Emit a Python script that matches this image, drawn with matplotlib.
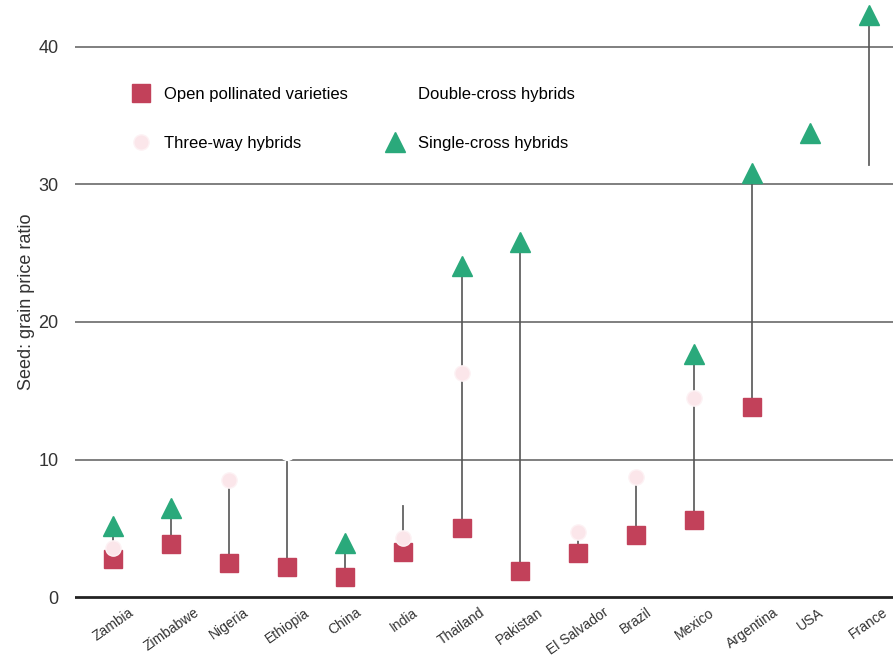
import numpy as np
import matplotlib
matplotlib.use("Agg")
import matplotlib.pyplot as plt

plt.rcParams['font.family'] = ['Liberation Sans', 'DejaVu Sans']

countries = ["Zambia", "Zimbabwe", "Nigeria", "Ethiopia", "China", "India", "Thailand",
             "Pakistan", "El Salvador", "Brazil", "Mexico", "Argentina", "USA", "France"]
nan = np.nan
open_pollinated = [2.8, 3.85, 2.5, 2.2, 1.45, 3.3, 5.0, 1.9, 3.2, 4.5, 5.6, 13.8, nan, nan]
double_cross = [nan, nan, nan, 10.5, nan, 7.3, nan, nan, nan, nan, nan, nan, nan, 30.8]
three_way = [3.6, nan, 8.5, nan, nan, 4.3, 16.3, nan, 4.7, 8.7, 14.5, nan, nan, nan]
single_cross = [5.2, 6.5, nan, nan, 3.9, nan, 24.1, 25.8, nan, nan, 17.7, 30.8, 33.7, 42.3]
yticks = [0, 10, 20, 30, 40]

fig = plt.figure(figsize=(8.93, 6.60), dpi=100)
ax = fig.add_axes([0.084, 0.087, 0.916, 0.913])
x = np.arange(len(countries))

# gridlines
for t in yticks:
    ax.axhline(t, color='#222222' if t == 0 else '#6a6a6a', lw=2.0 if t == 0 else 1.2, zorder=0)

# vertical range lines
allv = np.array([open_pollinated, double_cross, three_way, single_cross], dtype=float)
for i in range(len(countries)):
    col = allv[:, i]
    col = col[~np.isnan(col)]
    if len(col) >= 2:
        ax.vlines(x[i], col.min(), col.max(), color='#555555', lw=1.2, zorder=1)

sq = ax.plot(x, open_pollinated, 's', color='#c2415a', ms=13, mec='#c2415a', ls='none', zorder=3,
             label='Open pollinated varieties')[0]
tw = ax.plot(x, three_way, 'o', color='#fbe6ea', ms=11, mec='#fdf2f4', ls='none', zorder=4,
             label='Three-way hybrids')[0]
dc = ax.plot(x, double_cross, 'o', color='white', ms=10, mec='white', ls='none', zorder=2,
             label='Double-cross hybrids')[0]
tr = ax.plot(x, single_cross, '^', color='#2aa97b', ms=14, mec='#2aa97b', ls='none', zorder=3,
             label='Single-cross hybrids')[0]

ax.legend(handles=[sq, tw, dc, tr], ncol=2, frameon=False, loc='upper left',
          bbox_to_anchor=(0.05, 0.88), fontsize=12, columnspacing=2.2, labelspacing=2.0,
          handletextpad=0.8, markerscale=1.0, handlelength=1.2)

ax.set_xlim(-0.65, 13.42)
ax.set_ylim(-0.4, 43.4)
ax.set_yticks(yticks)
ax.set_yticklabels([str(t) for t in yticks], fontsize=13, color='#333333')
ax.tick_params(axis='y', length=0, pad=12)
ax.set_xticks(x)
ax.set_xticklabels(countries, rotation=35, ha='center', fontsize=10, color='#333333')
ax.tick_params(axis='x', length=0, pad=2)
ax.set_ylabel('Seed: grain price ratio', fontsize=13, color='#333333', labelpad=2)
for s in ax.spines.values():
    s.set_visible(False)

fig.savefig('out.png', dpi=100)
